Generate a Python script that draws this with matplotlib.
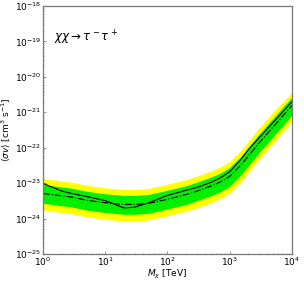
import numpy as np
import matplotlib
matplotlib.use("Agg")
import matplotlib.pyplot as plt

mass_tev = [1, 2, 3, 5, 10, 20, 30, 50, 100, 200, 300, 500, 700, 1000, 1500, 2000, 3000, 5000, 10000]
observed = [9.8e-24, 6.0e-24, 5.0e-24, 4.2e-24, 3.2e-24, 2.0e-24, 2.1e-24, 2.8e-24, 4.5e-24,
            6.3e-24, 7.6e-24, 1.05e-23, 1.4e-23, 2.1e-23, 4.6e-23, 8.9e-23, 1.95e-22, 5.2e-22, 2.0e-21]
expected = [5.1e-24, 4.4e-24, 4.0e-24, 3.3e-24, 2.8e-24, 2.5e-24, 2.5e-24, 2.7e-24, 3.5e-24,
            4.8e-24, 6.0e-24, 8.3e-24, 1.07e-23, 1.55e-23, 3.2e-23, 5.9e-23, 1.4e-22, 3.9e-22, 1.55e-21]
green_hi = [9.1e-24, 7.8e-24, 7.1e-24, 5.9e-24, 5.0e-24, 4.5e-24, 4.5e-24, 4.8e-24, 6.3e-24,
            8.5e-24, 1.07e-23, 1.48e-23, 1.9e-23, 2.8e-23, 5.6e-23, 1.05e-22, 2.5e-22, 6.9e-22, 2.7e-21]
green_lo = [2.7e-24, 2.3e-24, 2.1e-24, 1.74e-24, 1.48e-24, 1.32e-24, 1.32e-24, 1.41e-24, 1.86e-24,
            2.5e-24, 3.2e-24, 4.4e-24, 5.6e-24, 8.2e-24, 1.66e-23, 3.1e-23, 7.4e-23, 2.05e-22, 8.3e-22]
yellow_hi = [1.35e-23, 1.15e-23, 1.05e-23, 8.7e-24, 7.4e-24, 6.6e-24, 6.6e-24, 7.1e-24, 9.3e-24,
             1.26e-23, 1.58e-23, 2.2e-23, 2.8e-23, 4.1e-23, 8.3e-23, 1.55e-22, 3.7e-22, 1.02e-21, 3.7e-21]
yellow_lo = [1.74e-24, 1.48e-24, 1.35e-24, 1.12e-24, 9.5e-25, 8.5e-25, 8.5e-25, 9.1e-25, 1.2e-24,
             1.62e-24, 2.0e-24, 2.8e-24, 3.6e-24, 5.3e-24, 1.07e-23, 2.0e-23, 4.8e-23, 1.32e-22, 5.6e-22]

fig = plt.figure(figsize=(3.04, 2.82), dpi=100)
ax = fig.add_axes([0.1414, 0.0993, 0.8191, 0.8794])

ax.fill_between(mass_tev, yellow_lo, yellow_hi, color="#ffff00", lw=0)
ax.fill_between(mass_tev, green_lo, green_hi, color="#00f000", lw=0)
ax.plot(mass_tev, observed, color="black", lw=0.8)
ax.plot(mass_tev, expected, color="black", lw=0.8, ls="-.")

ax.set_xscale("log")
ax.set_yscale("log")
ax.set_xlim(1, 1e4)
ax.set_ylim(1e-25, 1e-18)

for s in ax.spines.values():
    s.set_color("#777777")
    s.set_linewidth(0.9)
ax.tick_params(which="both", direction="in", color="#999999", labelsize=6.5, pad=1)
ax.tick_params(which="major", length=2)
ax.tick_params(which="minor", length=1)

ax.set_xlabel(r"$M_\chi$ [TeV]", fontsize=6.5)
ax.set_ylabel(r"$\langle\sigma v\rangle$ [cm$^3$ s$^{-1}$]", fontsize=6.5)
ax.xaxis.set_label_coords(0.5, -0.058)
ax.yaxis.set_label_coords(-0.125, 0.5)
ax.text(0.045, 0.855, r"$\chi\chi \rightarrow \tau^-\tau^+$", transform=ax.transAxes, fontsize=8.5)

fig.savefig("out.png", dpi=100)
